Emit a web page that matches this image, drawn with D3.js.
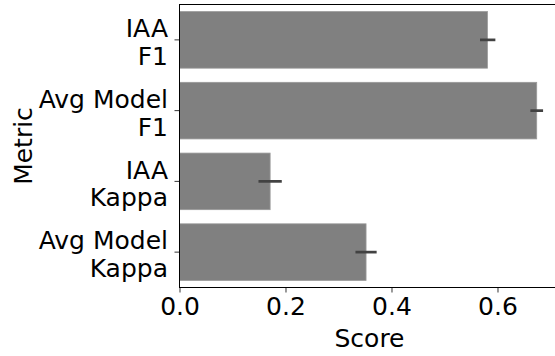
<!DOCTYPE html>
<html>
<head>
<meta charset="utf-8">
<script src="https://cdn.jsdelivr.net/npm/d3@7"></script>
<style>
  body { margin: 0; background: #fff; }
  text { font-family: "DejaVu Sans", sans-serif; fill: #000; }
</style>
</head>
<body>
<div id="chart"></div>
<script>
// data
var metrics = [["IAA", "F1"], ["Avg Model", "F1"], ["IAA", "Kappa"], ["Avg Model", "Kappa"]];
var scores = [0.581, 0.674, 0.171, 0.352];
var ciLow = [0.567, 0.662, 0.149, 0.332];
var ciHigh = [0.596, 0.686, 0.193, 0.372];
var xTicks = [0.0, 0.2, 0.4, 0.6];

var W = 555, H = 356;
var margin = {top: 4.5, left: 179.5, bottom: 287.5, right: 559.5};
var fontSize = 25;

var svg = d3.select("#chart").append("svg")
    .attr("width", W)
    .attr("height", H);

var x = d3.scaleLinear()
    .domain([0, 0.717])
    .range([margin.left, margin.right]);

var y = d3.scaleBand()
    .domain(d3.range(metrics.length))
    .range([margin.top, margin.bottom])
    .paddingInner(0.2)
    .paddingOuter(0.1);

// bars
svg.selectAll(".bar")
    .data(scores)
    .enter().append("rect")
    .attr("class", "bar")
    .attr("x", x(0))
    .attr("y", function (d, i) { return y(i); })
    .attr("width", function (d) { return x(d) - x(0); })
    .attr("height", y.bandwidth())
    .attr("fill", "#808080")
    .attr("stroke", "#9a9a9a")
    .attr("stroke-width", 0.8);

// error bars
svg.selectAll(".err")
    .data(scores)
    .enter().append("line")
    .attr("class", "err")
    .attr("x1", function (d, i) { return x(ciLow[i]); })
    .attr("x2", function (d, i) { return x(ciHigh[i]); })
    .attr("y1", function (d, i) { return y(i) + y.bandwidth() / 2; })
    .attr("y2", function (d, i) { return y(i) + y.bandwidth() / 2; })
    .attr("stroke", "#424242")
    .attr("stroke-width", 2.7);

// x axis
var xAxis = d3.axisBottom(x)
    .tickValues(xTicks)
    .tickFormat(d3.format(".1f"))
    .tickSize(5)
    .tickPadding(5);
var gx = svg.append("g")
    .attr("transform", "translate(0," + margin.bottom + ")")
    .call(xAxis);
gx.select(".domain").remove();
gx.selectAll(".tick line").attr("stroke", "#000").attr("stroke-width", 0.8);
gx.selectAll(".tick text")
    .attr("font-family", "DejaVu Sans")
    .attr("font-size", fontSize)
    .attr("fill", "#000");

// y axis ticks + two-line labels
var yt = svg.append("g");
metrics.forEach(function (m, i) {
    var cy = y(i) + y.bandwidth() / 2;
    yt.append("line")
        .attr("x1", margin.left - 5).attr("x2", margin.left)
        .attr("y1", cy).attr("y2", cy)
        .attr("stroke", "#000").attr("stroke-width", 0.8);
    var t = yt.append("text")
        .attr("text-anchor", "end")
        .attr("font-size", fontSize);
    t.append("tspan").attr("x", margin.left - 11.5).attr("y", cy - 2.7).text(m[0]);
    t.append("tspan").attr("x", margin.left - 11.5).attr("y", cy + 25).text(m[1]);
});

// spines
svg.append("rect")
    .attr("x", margin.left)
    .attr("y", margin.top)
    .attr("width", margin.right - margin.left)
    .attr("height", margin.bottom - margin.top)
    .attr("fill", "none")
    .attr("stroke", "#000")
    .attr("stroke-width", 1);

// axis labels
svg.append("text")
    .attr("x", (margin.left + margin.right) / 2)
    .attr("y", 346.5)
    .attr("text-anchor", "middle")
    .attr("font-size", fontSize)
    .text("Score");

svg.append("text")
    .attr("transform", "translate(31.5," + ((margin.top + margin.bottom) / 2) + ") rotate(-90)")
    .attr("text-anchor", "middle")
    .attr("font-size", fontSize)
    .text("Metric");
</script>
</body>
</html>
